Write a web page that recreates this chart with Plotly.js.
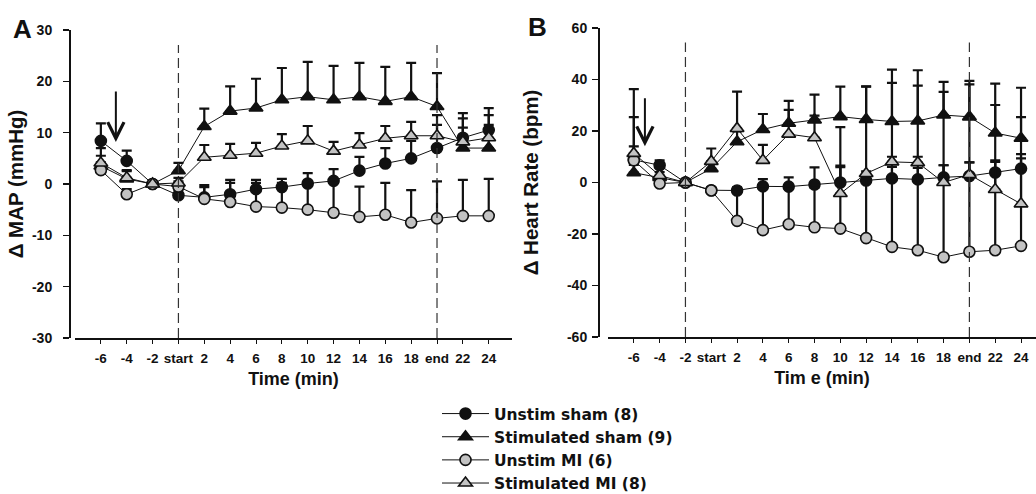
<!DOCTYPE html>
<html>
<head>
<meta charset="utf-8">
<script src="https://cdn.plot.ly/plotly-3.0.1.min.js"></script>
<style>
  html, body { margin: 0; padding: 0; background: #ffffff; }
  #chart { width: 1036px; height: 494px; }
</style>
</head>
<body>
<div id="chart"></div>
<script>
// Time points (min) relative to the stimulation period
const timePoints = ['-6', '-4', '-2', 'start', '2', '4', '6', '8', '10', '12', '14', '16', '18', 'end', '22', '24'];

// Group names shown in the legend
const groupNames = ['Unstim sham (8)', 'Stimulated sham (9)', 'Unstim MI (6)', 'Stimulated MI (8)'];

// Y tick labels (plain hyphen minus signs)
const mapTickValues = [-30, -20, -10, 0, 10, 20, 30];
const mapTickText   = ['-30', '-20', '-10', '0', '10', '20', '30'];
const hrTickValues  = [-60, -40, -20, 0, 20, 40, 60];
const hrTickText    = ['-60', '-40', '-20', '0', '20', '40', '60'];

// Panel A: change in mean arterial pressure (mmHg), mean and upper SEM
const mapUnstimSham    = [8.4, 4.5, 0, -2.2, -2.6, -2.0, -1.0, -0.6, 0.1, 0.6, 2.6, 4.0, 5.0, 7.0, 9.0, 10.5];
const mapUnstimShamErr = [3.4, 2.0, 0, 1.0, 2.0, 2.8, 1.8, 1.6, 2.0, 2.3, 2.7, 3.0, 3.4, 4.5, 3.8, 4.3];
const mapStimSham      = [3.5, 1.0, 0, 2.6, 11.2, 14.2, 14.8, 16.4, 17.0, 16.4, 17.0, 16.1, 17.0, 15.1, 7.0, 7.0];
const mapStimShamErr   = [2.0, 1.5, 0, 1.5, 3.5, 4.8, 5.7, 6.2, 6.8, 6.6, 6.6, 6.7, 6.6, 6.5, 6.8, 6.4];
const mapUnstimMI      = [2.7, -2.0, 0, -0.5, -2.9, -3.5, -4.4, -4.6, -5.0, -5.6, -6.4, -6.0, -7.5, -6.7, -6.2, -6.2];
const mapUnstimMIErr   = [1.5, 1.0, 0, 1.0, 2.7, 3.7, 4.6, 4.8, 5.0, 5.8, 5.9, 6.2, 6.3, 7.2, 7.0, 7.2];
const mapStimMI        = [4.1, 1.2, 0, 0.2, 5.2, 5.6, 6.0, 7.4, 8.4, 6.4, 7.6, 8.9, 9.4, 9.4, 8.2, 9.0];
const mapStimMIErr     = [2.9, 1.5, 0, 1.0, 2.4, 2.2, 2.0, 2.3, 2.9, 1.8, 2.3, 2.4, 2.7, 4.0, 2.8, 2.5];

// Panel B: change in heart rate (bpm), mean and upper SEM
const hrUnstimSham    = [8.8, 6.7, 0, -3.0, -3.1, -1.5, -1.6, -0.8, 0, 0.8, 1.6, 1.2, 2.0, 2.5, 3.9, 5.4];
const hrUnstimShamErr = [16.6, 1.9, 0, 1.0, 1.2, 2.8, 3.6, 6.7, 6.6, 3.5, 4.5, 4.5, 4.7, 5.3, 4.7, 5.6];
const hrStimSham      = [3.8, 2.0, 0, 5.4, 15.8, 20.6, 23.0, 24.3, 25.6, 24.5, 23.7, 23.9, 26.2, 25.5, 19.2, 17.2];
const hrStimShamErr   = [3.0, 2.0, 0, 2.0, 4.0, 6.0, 8.7, 9.8, 11.6, 12.8, 20.1, 19.7, 12.9, 14.0, 19.2, 19.6];
const hrUnstimMI      = [8.6, -0.4, 0, -3.1, -14.9, -18.5, -16.2, -17.4, -17.9, -21.6, -25.0, -26.3, -29.0, -26.9, -26.3, -24.6];
const hrUnstimMIErr   = [5.4, 0.9, 0, 1.1, 11.4, 16.0, 13.7, 15.4, 23.9, 23.1, 35.0, 36.3, 35.7, 34.7, 34.3, 34.0];
const hrStimMI        = [11.3, 2.7, 0, 8.2, 21.0, 8.6, 18.8, 17.4, -4.3, 3.5, 8.0, 7.7, 0, 3.1, -2.7, -8.3];
const hrStimMIErr     = [25.0, 3.0, 0, 5.0, 14.3, 6.0, 9.4, 8.6, 25.8, 33.7, 30.7, 29.9, 35.2, 35.0, 32.8, 33.7];

// Stimulation onset / offset markers (dashed lines) and the arrow position
const mapPeriod = ['start', 'end'];
const hrPeriod = ['-2', 'end'];
const mapArrow = { at: 0.58, from: 18.3, to: 8.2 };
const hrArrow = { at: 0.43, from: 33.3, to: 14.1 };

// ---- page geometry helpers (pixels -> paper fractions) ----
const W = 1036, H = 494;
const px = v => v / W;
const py = v => 1 - v / H;

const FONT = 'Liberation Sans, Arial, Helvetica, sans-serif';
const INK = '#111111';
const GREY = '#c3c3c3';

const styles = [
  { symbol: 'circle', color: INK, size: 11 },
  { symbol: 'triangle-up', color: INK, size: 12 },
  { symbol: 'circle', color: GREY, size: 11 },
  { symbol: 'triangle-up', color: GREY, size: 12 }
];

function series(idx, y, err, xa, ya, showlegend) {
  const s = styles[idx];
  return {
    type: 'scatter', mode: 'lines+markers',
    x: timePoints, y: y, xaxis: xa, yaxis: ya,
    name: groupNames[idx], legendgroup: 'g' + idx,
    showlegend: showlegend,
    line: { color: INK, width: 1 },
    marker: { symbol: s.symbol, size: s.size, color: s.color, line: { color: INK, width: 1.6 } },
    error_y: { type: 'data', symmetric: false, array: err, arrayminus: err.map(() => 0),
               color: INK, thickness: 2.2, width: 5 },
    hoverinfo: 'skip'
  };
}

const data = [
  series(0, mapUnstimSham, mapUnstimShamErr, 'x', 'y', true),
  series(1, mapStimSham, mapStimShamErr, 'x', 'y', true),
  series(2, mapUnstimMI, mapUnstimMIErr, 'x', 'y', true),
  series(3, mapStimMI, mapStimMIErr, 'x', 'y', true),
  series(0, hrUnstimSham, hrUnstimShamErr, 'x2', 'y2', false),
  series(1, hrStimSham, hrStimShamErr, 'x2', 'y2', false),
  series(2, hrUnstimMI, hrUnstimMIErr, 'x2', 'y2', false),
  series(3, hrStimMI, hrStimMIErr, 'x2', 'y2', false)
];

const xTickFont = { family: FONT, size: 13.5, color: INK, weight: 'bold' };
const yTickFont = { family: FONT, size: 14, color: INK, weight: 'bold' };
const titleFont = { family: FONT, size: 18, color: INK, weight: 'bold' };

function xAxis(domain, range, anchor, title) {
  return {
    domain: domain, range: range, anchor: anchor,
    type: 'category', categoryarray: timePoints, categoryorder: 'array',
    showline: true, linecolor: INK, linewidth: 1.5,
    ticks: 'outside', ticklen: 4, tickwidth: 1, tickcolor: INK,
    showgrid: false, zeroline: false,
    tickfont: xTickFont, ticklabelstandoff: 3,
    title: { text: title, font: titleFont, standoff: 7 }
  };
}
function yAxis(domain, range, vals, text, position, title, labelGap, standoff) {
  return {
    domain: domain, range: range, tickmode: 'array', tickvals: vals, ticktext: text,
    anchor: 'free', position: position,
    showline: true, linecolor: INK, linewidth: 1.5,
    ticks: 'outside', ticklen: 6, tickwidth: 1.5, tickcolor: INK,
    showgrid: false, zeroline: false,
    tickfont: yTickFont, ticklabelstandoff: labelGap,
    title: { text: title, font: { family: FONT, size: 20.5, color: INK, weight: 'bold' }, standoff: standoff }
  };
}

function periodLines(period, xref, yref, top, bottom) {
  return period.map(t => ({
    type: 'line', xref: xref, yref: yref,
    x0: timePoints.indexOf(t), x1: timePoints.indexOf(t), y0: bottom, y1: top,
    line: { color: '#333333', width: 1.2, dash: '10px,5px' }
  }));
}

function arrow(a, xref, yref) {
  return {
    xref: xref, yref: yref, axref: xref, ayref: yref,
    x: a.at, y: a.to, ax: a.at, ay: a.from,
    text: '', showarrow: true, arrowhead: 5, arrowsize: 1.6, arrowwidth: 2, arrowcolor: INK, standoff: 0
  };
}

const layout = {
  width: W, height: H,
  margin: { l: 0, r: 0, t: 0, b: 0, autoexpand: false },
  paper_bgcolor: '#ffffff', plot_bgcolor: '#ffffff',
  font: { family: FONT, color: INK },
  xaxis: xAxis([px(75), px(512)], [-1, 15.9], 'y', 'Time (min)'),
  yaxis: yAxis([py(338), py(30)], [-30, 30], mapTickValues, mapTickText, px(69), 'Δ MAP (mmHg)', 8, 1),
  xaxis2: xAxis([px(608), px(1036)], [-1, 15.58], 'y2', 'Tim e (min)'),
  yaxis2: yAxis([py(337), py(28)], [-60, 60], hrTickValues, hrTickText, px(598), 'Δ Heart Rate (bpm)', 2, 21),
  shapes: [
    ...periodLines(mapPeriod, 'x', 'y', 27.1, -30),
    ...periodLines(hrPeriod, 'x2', 'y2', 54.4, -60)
  ],
  annotations: [
    arrow(mapArrow, 'x', 'y'),
    arrow(hrArrow, 'x2', 'y2'),
    { xref: 'paper', yref: 'paper', x: px(11), y: py(29), xanchor: 'left', yanchor: 'middle',
      text: 'A', showarrow: false, font: { family: FONT, size: 26, color: INK, weight: 'bold' } },
    { xref: 'paper', yref: 'paper', x: px(526), y: py(27), xanchor: 'left', yanchor: 'middle',
      text: 'B', showarrow: false, font: { family: FONT, size: 26, color: INK, weight: 'bold' } }
  ],
  showlegend: true,
  legend: {
    x: px(437), y: py(397), xanchor: 'left', yanchor: 'top',
    bgcolor: 'rgba(0,0,0,0)', borderwidth: 0,
    font: { family: 'DejaVu Sans, Verdana, sans-serif', size: 15.5, color: INK, weight: 'bold' },
    tracegroupgap: 6, itemwidth: 47, traceorder: 'normal'
  }
};

Plotly.newPlot('chart', data, layout, { staticPlot: true, displayModeBar: false });
</script>
</body>
</html>
